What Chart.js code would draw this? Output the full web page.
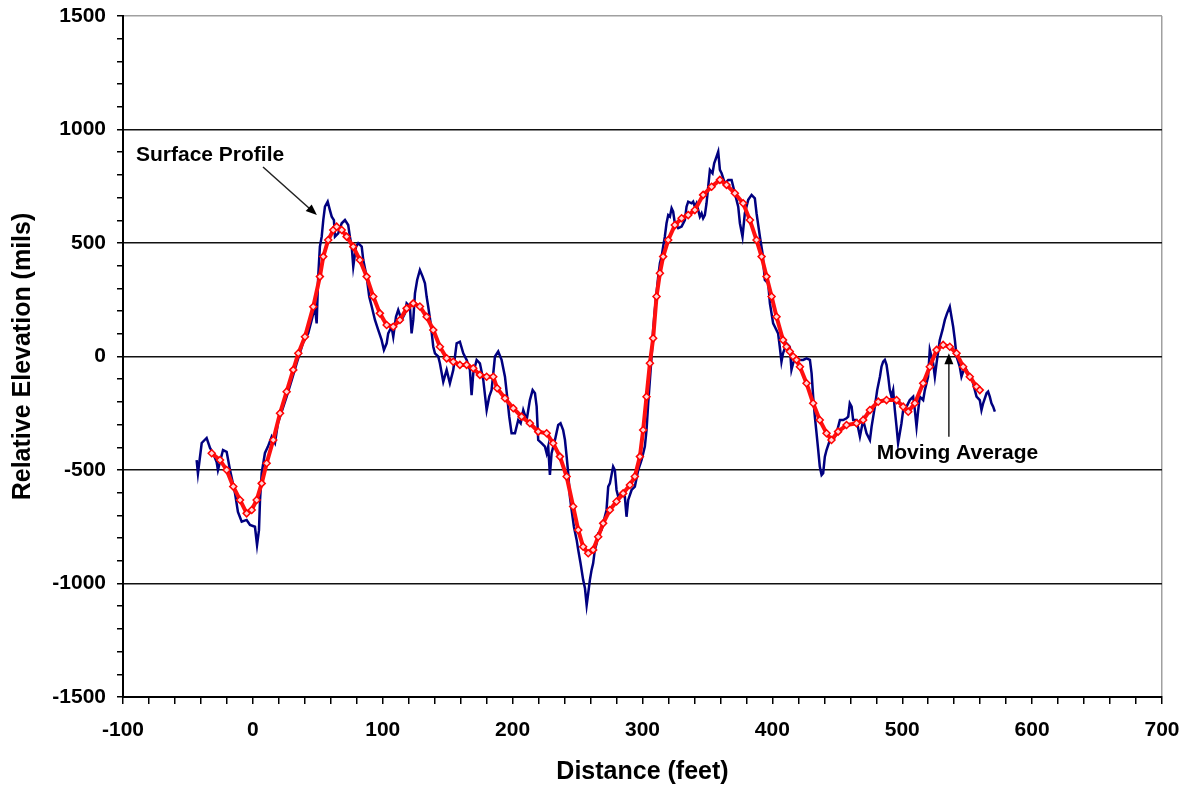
<!DOCTYPE html>
<html>
<head>
<meta charset="utf-8">
<title>Relative Elevation vs Distance</title>
<script src="https://cdn.jsdelivr.net/npm/chart.js@4.4.0/dist/chart.umd.min.js"></script>
<style>
  html, body { margin: 0; padding: 0; background: #fff; }
  #wrap { width: 1191px; height: 794px; }
</style>
</head>
<body>
<div id="wrap"><canvas id="profileChart" width="1191" height="794"></canvas></div>
<script>
// surface profile readings (distance in feet, elevation in mils)
const profileX = [
  -43.3, -42.3, -39.4, -35.6, -33.0, -30.7, -27.9, -26.9, -23.0, -20.2,
  -17.6, -13.8, -11.5, -8.6, -4.8, -2.2, 1.6, 3.2, 4.7, 5.5,
  6.8, 9.3, 11.6, 14.5, 17.0, 19.3, 22.2, 26.0, 29.9, 33.7,
  38.6, 42.6, 45.3, 47.8, 49.1, 50.3, 51.6, 53.0, 54.2, 55.5,
  57.6, 59.3, 60.7, 62.4, 63.2, 65.7, 68.4, 70.9, 73.4, 74.7,
  76.1, 77.3, 79.4, 81.1, 83.8, 85.0, 87.6, 89.6, 91.5, 94.0,
  96.5, 99.1, 100.9, 103.0, 104.2, 106.8, 108.1, 110.2, 111.9, 114.5,
  117.1, 118.4, 120.9, 122.2, 123.5, 124.8, 126.5, 128.6, 130.7, 132.5,
  133.8, 135.0, 136.9, 138.9, 140.2, 142.7, 144.0, 146.6, 149.2, 151.7,
  154.3, 156.9, 159.4, 162.0, 164.6, 167.1, 168.4, 169.7, 172.3, 174.8,
  177.4, 180.0, 182.0, 183.8, 186.4, 188.9, 191.5, 194.1, 195.8, 197.4,
  199.2, 201.8, 204.3, 206.2, 208.2, 210.8, 213.3, 215.4, 217.2, 218.5,
  219.7, 222.3, 224.9, 226.2, 227.4, 228.7, 230.0, 232.6, 235.1, 236.9,
  238.9, 240.3, 241.6, 242.8, 244.1, 245.4, 247.2, 249.3, 250.5, 252.3,
  254.3, 255.7, 257.0, 258.2, 259.5, 260.8, 262.0, 263.3, 264.7, 265.9,
  268.5, 269.7, 272.3, 273.6, 274.9, 277.4, 278.7, 280.0, 281.3, 283.9,
  286.4, 287.7, 289.0, 291.6, 294.1, 296.7, 299.3, 301.8, 303.1, 304.4,
  305.7, 307.0, 308.2, 309.5, 310.8, 312.1, 313.4, 314.7, 315.9, 317.2,
  318.5, 319.8, 321.1, 322.4, 323.6, 324.9, 327.5, 330.1, 332.6, 333.9,
  335.2, 337.8, 339.0, 340.3, 341.6, 342.9, 344.2, 345.5, 346.7, 348.0,
  349.3, 350.6, 351.9, 353.9, 355.2, 357.0, 358.3, 359.6, 360.9, 363.4,
  366.0, 368.6, 371.1, 373.7, 375.0, 377.0, 378.8, 381.4, 384.0, 386.5,
  387.8, 390.4, 392.4, 394.2, 396.8, 398.1, 400.6, 401.9, 404.4, 405.7,
  407.0, 408.2, 410.9, 413.4, 414.7, 416.0, 417.3, 421.2, 423.7, 426.3,
  428.9, 430.2, 431.4, 432.7, 434.0, 435.3, 436.5, 437.9, 439.1, 440.4,
  441.7, 444.3, 446.8, 449.4, 452.0, 454.5, 457.1, 458.4, 459.6, 461.0,
  462.2, 464.8, 467.4, 469.9, 472.5, 475.1, 476.4, 478.9, 480.7, 482.8,
  484.0, 485.3, 486.6, 487.9, 489.2, 490.4, 491.7, 493.0, 494.3, 495.6,
  496.8, 498.1, 499.4, 500.7, 503.3, 505.8, 508.4, 509.7, 511.0, 512.3,
  513.5, 516.1, 517.4, 519.9, 521.2, 523.8, 525.1, 526.4, 528.9, 531.0,
  532.8, 534.5, 536.6, 537.9, 539.2, 540.5, 541.8, 544.3, 545.6, 548.2,
  550.7, 553.3, 555.9, 557.2, 559.7, 561.0, 562.3, 564.9, 566.1, 567.4,
  568.7, 570.0, 571.3
];
const profileY = [
  -456, -515, -381, -359, -403, -425, -465, -500, -412, -420,
  -500, -601, -685, -728, -720, -742, -750, -830, -765, -632,
  -513, -425, -397, -353, -381, -293, -243, -177, -104, -30,
  60, 102, 161, 219, 146, 352, 484, 528, 601, 660,
  682, 645, 616, 601, 528, 543, 587, 601, 579, 528,
  484, 396, 484, 499, 484, 425, 352, 263, 220, 161,
  117, 73, 29, 58, 102, 131, 87, 175, 205, 161,
  190, 234, 220, 102, 161, 278, 337, 381, 352, 322,
  263, 220, 146, 43, 14, 0, -30, -111, -59, -118,
  -59, 58, 65, 14, -15, -59, -170, -74, -15, -30,
  -103, -236, -177, -148, 0, 22, -15, -89, -177, -265,
  -338, -338, -280, -294, -236, -280, -192, -148, -162, -221,
  -368, -382, -397, -426, -397, -522, -426, -368, -302, -294,
  -324, -368, -441, -514, -617, -676, -750, -808, -852, -911,
  -984, -1021, -1095, -1043, -984, -940, -911, -852, -823, -779,
  -764, -735, -676, -573, -559, -485, -500, -588, -617, -603,
  -617, -706, -632, -588, -573, -500, -456, -397, -324, -206,
  -103, 0, 117, 205, 278, 352, 411, 440, 484, 528,
  587, 623, 616, 653, 638, 587, 565, 572, 601, 660,
  682, 675, 682, 660, 675, 645, 616, 631, 609, 623,
  675, 748, 822, 807, 851, 880, 902, 822, 807, 763,
  778, 778, 719, 660, 587, 528, 631, 690, 712, 697,
  631, 528, 455, 337, 322, 234, 146, 131, 102, 43,
  -23, 14, 58, 43, -59, -30, -8, -15, -15, -8,
  -15, -74, -177, -265, -338, -412, -485, -522, -514, -441,
  -412, -368, -368, -338, -280, -280, -272, -265, -206, -221,
  -280, -280, -353, -280, -338, -368, -309, -221, -148, -89,
  -45, -23, -15, -37, -89, -148, -177, -148, -236, -309,
  -382, -338, -294, -236, -221, -192, -177, -236, -309, -236,
  -177, -192, -148, -89, 29, -30, -89, -30, 73, 117,
  161, 190, 219, 175, 131, 73, 0, -45, -89, -45,
  -74, -89, -148, -177, -192, -236, -206, -162, -155, -177,
  -206, -221, -243
];

// moving average of the profile
const averageX = [
  -31.7, -25.3, -20.2, -15.1, -9.9, -4.8, -0.9, 2.9, 6.8, 10.6,
  15.7, 20.9, 26.0, 31.1, 35.0, 40.1, 46.5, 51.6, 54.2, 58.0,
  61.9, 64.5, 68.4, 72.2, 77.3, 82.4, 87.6, 92.7, 97.8, 103.0,
  108.1, 113.2, 118.4, 123.5, 128.6, 133.8, 138.9, 144.0, 149.2, 154.3,
  159.4, 164.6, 169.7, 174.8, 180.0, 185.1, 188.1, 194.1, 200.5, 206.9,
  213.3, 219.7, 226.2, 231.2, 236.4, 241.6, 246.6, 250.5, 254.3, 258.2,
  262.0, 265.9, 269.7, 274.9, 280.0, 285.1, 290.3, 294.1, 298.0, 300.5,
  303.1, 305.7, 308.2, 310.8, 313.4, 315.9, 319.8, 324.9, 330.1, 335.2,
  340.3, 346.7, 353.2, 359.6, 364.7, 371.1, 377.5, 382.7, 387.8, 391.7,
  395.5, 399.4, 403.2, 408.2, 410.9, 413.4, 416.0, 418.6, 421.2, 426.3,
  431.4, 436.5, 441.7, 445.5, 450.6, 457.1, 464.8, 469.9, 475.1, 481.5,
  487.9, 495.6, 500.7, 504.6, 509.7, 516.1, 521.2, 526.4, 531.5, 536.6,
  541.8, 546.9, 552.0, 557.2, 559.7
];
const averageY = [
  -426, -456, -500, -573, -632, -691, -676, -632, -559, -470,
  -368, -250, -155, -59, 14, 87, 219, 352, 440, 513,
  557, 572, 557, 528, 484, 425, 352, 264, 190, 139,
  131, 161, 212, 234, 220, 175, 117, 43, -8, -23,
  -37, -37, -52, -81, -89, -89, -140, -184, -228, -265,
  -294, -331, -338, -382, -441, -529, -661, -764, -838, -867,
  -852, -794, -735, -676, -639, -603, -566, -529, -441, -324,
  -177, -30, 80, 264, 367, 440, 513, 579, 609, 623,
  645, 712, 748, 778, 756, 719, 675, 601, 513, 440,
  352, 264, 175, 73, 43, 22, 0, -15, -45, -118,
  -206, -280, -338, -368, -331, -302, -294, -280, -236, -199,
  -192, -192, -221, -243, -206, -118, -45, 29, 51, 43,
  14, -45, -89, -133, -148
];

const profilePoints = profileX.map((x, i) => ({ x: x, y: profileY[i] }));
const averagePoints = averageX.map((x, i) => ({ x: x, y: averageY[i] }));

const labelFont = '"Liberation Sans", Arial, sans-serif';

// text + arrow callouts, placed in data units
const callouts = [
  { text: 'Surface Profile', tx: -90, ty: 888, from: [7.8, 835], to: [49.3, 623] },
  { text: 'Moving Average', tx: 480.4, ty: -425, from: [535.9, -353], to: [535.9, 14] }
];

const calloutPlugin = {
  id: 'callouts',
  afterDatasetsDraw(chart) {
    const ctx = chart.ctx;
    const xs = chart.scales.x;
    const ys = chart.scales.y;
    ctx.save();
    ctx.fillStyle = '#000';
    ctx.strokeStyle = '#222';
    ctx.font = 'bold 21px ' + labelFont;
    ctx.textBaseline = 'middle';
    ctx.textAlign = 'left';
    callouts.forEach(c => {
      ctx.fillText(c.text, xs.getPixelForValue(c.tx), ys.getPixelForValue(c.ty));

      const x1 = xs.getPixelForValue(c.from[0]);
      const y1 = ys.getPixelForValue(c.from[1]);
      const x2 = xs.getPixelForValue(c.to[0]);
      const y2 = ys.getPixelForValue(c.to[1]);
      const ang = Math.atan2(y2 - y1, x2 - x1);
      const head = 11;
      ctx.lineWidth = 1.5;
      ctx.beginPath();
      ctx.moveTo(x1, y1);
      ctx.lineTo(x2 - Math.cos(ang) * head * 0.8, y2 - Math.sin(ang) * head * 0.8);
      ctx.stroke();
      ctx.beginPath();
      ctx.moveTo(x2, y2);
      ctx.lineTo(x2 - head * Math.cos(ang) + 4.5 * Math.sin(ang), y2 - head * Math.sin(ang) - 4.5 * Math.cos(ang));
      ctx.lineTo(x2 - head * Math.cos(ang) - 4.5 * Math.sin(ang), y2 - head * Math.sin(ang) + 4.5 * Math.cos(ang));
      ctx.closePath();
      ctx.fill();
    });
    ctx.restore();
  }
};

const tickFont = { family: labelFont, weight: 'bold', size: 21 };
const titleFont = { family: labelFont, weight: 'bold', size: 25 };

new Chart(document.getElementById('profileChart'), {
  type: 'line',
  data: {
    datasets: [
      {
        label: 'Moving Average',
        data: averagePoints,
        order: 0,
        borderColor: '#ff1010',
        borderWidth: 4,
        pointStyle: 'rectRot',
        pointRadius: 3.5,
        pointBorderWidth: 1.5,
        pointBorderColor: '#ff0000',
        pointBackgroundColor: '#ffd6d6',
        tension: 0
      },
      {
        label: 'Surface Profile',
        data: profilePoints,
        order: 1,
        borderColor: '#000080',
        borderWidth: 2.5,
        pointRadius: 0,
        tension: 0
      }
    ]
  },
  options: {
    responsive: false,
    animation: false,
    devicePixelRatio: 1,
    layout: { padding: { top: 16, right: 29, left: 0, bottom: 0 } },
    plugins: {
      legend: { display: false },
      tooltip: { enabled: false }
    },
    scales: {
      x: {
        type: 'linear',
        min: -100,
        max: 700,
        afterFit(scale) {
          scale.height = 97;
          scale.paddingLeft = 0;
          scale.paddingRight = 0;
        },
        ticks: {
          stepSize: 20,
          autoSkip: false,
          maxRotation: 0,
          padding: 14,
          color: '#000',
          font: tickFont,
          callback: v => (v % 100 === 0 ? String(v) : '')
        },
        grid: {
          color: c => (c.tick && c.tick.value === 700 ? '#a0a0a0' : 'rgba(0,0,0,0)'),
          lineWidth: 1.5,
          tickColor: '#000',
          tickLength: 7,
          tickWidth: 1.5
        },
        border: { color: '#000', width: 2 },
        title: {
          display: true,
          text: 'Distance (feet)',
          color: '#000',
          font: titleFont,
          padding: { top: 0, bottom: 7 }
        }
      },
      y: {
        min: -1500,
        max: 1500,
        afterFit(scale) {
          scale.width = 123;
          scale.paddingTop = 0;
          scale.paddingBottom = 0;
        },
        ticks: {
          stepSize: 100,
          autoSkip: false,
          padding: 11,
          color: '#000',
          font: tickFont,
          callback: v => (v % 500 === 0 ? String(v) : '')
        },
        grid: {
          color: c => {
            if (!c.tick) return 'rgba(0,0,0,0)';
            const v = c.tick.value;
            if (v === 1500) return '#a0a0a0';
            if (v % 500 === 0 && v !== -1500) return '#111';
            return 'rgba(0,0,0,0)';
          },
          lineWidth: 1.5,
          tickColor: '#000',
          tickLength: 6,
          tickWidth: 1.5
        },
        border: { color: '#000', width: 2 },
        title: {
          display: true,
          text: 'Relative Elevation (mils)',
          color: '#000',
          font: titleFont,
          padding: { top: 8, bottom: 0 }
        }
      }
    }
  },
  plugins: [calloutPlugin]
});
</script>
</body>
</html>
